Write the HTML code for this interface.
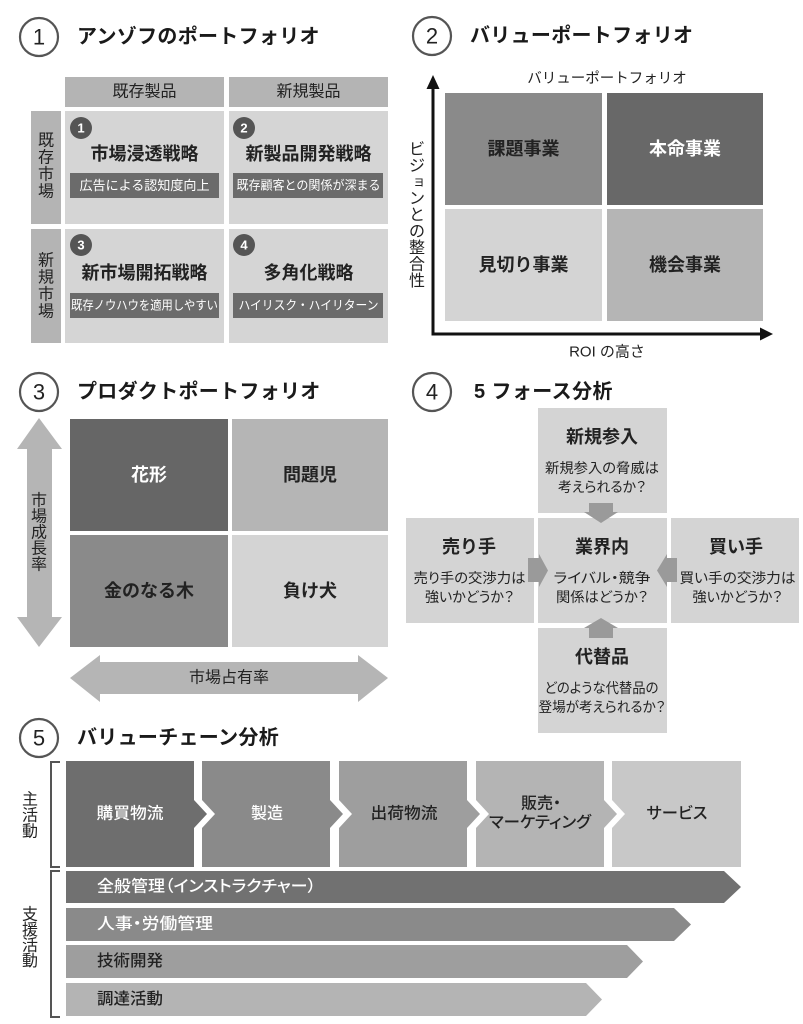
<!DOCTYPE html>
<html><head><meta charset="utf-8">
<style>
html,body{margin:0;padding:0;background:#fff;}
svg{display:block;}
text{font-family:"Liberation Sans","Noto Sans CJK JP",sans-serif;dominant-baseline:central;fill:#222;}
.t{font-size:20px;font-weight:700;fill:#1a1a1a;letter-spacing:0.3px;}
.n{font-size:22px;text-anchor:middle;fill:#222;}
.c{text-anchor:middle;}
.h16{font-size:16px;}
.b18{font-size:18px;font-weight:700;}
.w{fill:#fff;}
.bd{font-size:13px;font-weight:700;fill:#fff;text-anchor:middle;}
.d14{font-size:14px;text-anchor:middle;font-feature-settings:"palt" 1;}
.s5{font-size:16px;font-weight:500;font-feature-settings:"palt" 1;}
</style></head><body>
<svg width="803" height="1024" viewBox="0 0 803 1024" xmlns="http://www.w3.org/2000/svg">

<!-- Section headers -->
<circle cx="39" cy="37" r="19" fill="none" stroke="#555" stroke-width="2.2"/>
<text x="39" y="37" class="n">1</text>
<text x="77" y="37" class="t">アンゾフのポートフォリオ</text>

<circle cx="432" cy="36" r="19" fill="none" stroke="#555" stroke-width="2.2"/>
<text x="432" y="36" class="n">2</text>
<text x="470" y="36" class="t">バリューポートフォリオ</text>

<circle cx="39" cy="392" r="19" fill="none" stroke="#555" stroke-width="2.2"/>
<text x="39" y="392" class="n">3</text>
<text x="77" y="392" class="t">プロダクトポートフォリオ</text>

<circle cx="432" cy="392" r="19" fill="none" stroke="#555" stroke-width="2.2"/>
<text x="432" y="392" class="n">4</text>
<text x="474" y="392" class="t" style="letter-spacing:0.4px">5 フォース分析</text>

<circle cx="39" cy="738" r="19" fill="none" stroke="#555" stroke-width="2.2"/>
<text x="39" y="738" class="n">5</text>
<text x="77" y="738" class="t">バリューチェーン分析</text>

<!-- Section 1 -->
<rect x="65" y="77" width="159" height="30" fill="#b4b4b4"/>
<rect x="229" y="77" width="159" height="30" fill="#b4b4b4"/>
<text x="144.5" y="92" class="c h16">既存製品</text>
<text x="308.5" y="92" class="c h16">新規製品</text>

<rect x="31" y="111" width="30" height="113" fill="#b4b4b4"/>
<rect x="31" y="229" width="30" height="114" fill="#b4b4b4"/>
<text x="46" y="141" class="c h16">既</text>
<text x="46" y="158" class="c h16">存</text>
<text x="46" y="175" class="c h16">市</text>
<text x="46" y="192" class="c h16">場</text>
<text x="46" y="261" class="c h16">新</text>
<text x="46" y="278" class="c h16">規</text>
<text x="46" y="295" class="c h16">市</text>
<text x="46" y="312" class="c h16">場</text>

<rect x="65" y="111" width="159" height="113" fill="#d5d5d5"/>
<rect x="229" y="111" width="159" height="113" fill="#d5d5d5"/>
<rect x="65" y="229" width="159" height="114" fill="#d5d5d5"/>
<rect x="229" y="229" width="159" height="114" fill="#d5d5d5"/>

<circle cx="81" cy="128" r="11" fill="#555"/>
<circle cx="244" cy="128" r="11" fill="#555"/>
<circle cx="81" cy="245" r="11" fill="#555"/>
<circle cx="244" cy="245" r="11" fill="#555"/>
<text x="81" y="128" class="bd">1</text>
<text x="244" y="128" class="bd">2</text>
<text x="81" y="245" class="bd">3</text>
<text x="244" y="245" class="bd">4</text>

<text x="144.5" y="154" class="c b18">市場浸透戦略</text>
<text x="308.5" y="154" class="c b18">新製品開発戦略</text>
<text x="144.5" y="273" class="c b18">新市場開拓戦略</text>
<text x="308.5" y="273" class="c b18">多角化戦略</text>

<rect x="70" y="173" width="149" height="25" fill="#6b6b6b"/>
<rect x="233" y="173" width="150" height="25" fill="#6b6b6b"/>
<rect x="70" y="293" width="149" height="25" fill="#6b6b6b"/>
<rect x="233" y="293" width="150" height="25" fill="#6b6b6b"/>
<text x="144.5" y="185.5" class="c w" style="font-size:13px" textLength="130" lengthAdjust="spacingAndGlyphs">広告による認知度向上</text>
<text x="308.5" y="185.5" class="c w" style="font-size:12.5px" textLength="144" lengthAdjust="spacingAndGlyphs">既存顧客との関係が深まる</text>
<text x="144.5" y="305.5" class="c w" style="font-size:12.5px" textLength="147" lengthAdjust="spacingAndGlyphs">既存ノウハウを適用しやすい</text>
<text x="308.5" y="305.5" class="c w" style="font-size:12.5px" textLength="140" lengthAdjust="spacingAndGlyphs">ハイリスク・ハイリターン</text>

<!-- Section 2 -->
<text x="607" y="79" class="c" style="font-size:14.5px">バリューポートフォリオ</text>
<rect x="445" y="93" width="157" height="112" fill="#8a8a8a"/>
<rect x="607" y="93" width="156" height="112" fill="#686868"/>
<rect x="445" y="209" width="157" height="112" fill="#d4d4d4"/>
<rect x="607" y="209" width="156" height="112" fill="#b5b5b5"/>
<text x="523.5" y="149" class="c b18">課題事業</text>
<text x="685" y="149" class="c b18 w">本命事業</text>
<text x="523.5" y="265" class="c b18">見切り事業</text>
<text x="685" y="265" class="c b18">機会事業</text>

<line x1="433" y1="86" x2="433" y2="335.5" stroke="#111" stroke-width="3"/>
<line x1="431.5" y1="334" x2="762" y2="334" stroke="#111" stroke-width="3"/>
<polygon points="433,75 426.5,89 439.5,89" fill="#111"/>
<polygon points="773,334 760,327.5 760,340.5" fill="#111"/>

<text x="417" y="150" class="c h16">ビ</text>
<text x="417" y="166.5" class="c h16">ジ</text>
<text x="419" y="181" class="c h16" style="font-size:13px">ョ</text>
<text x="417" y="199" class="c h16">ン</text>
<text x="417" y="215.5" class="c h16">と</text>
<text x="417" y="232" class="c h16">の</text>
<text x="417" y="248.5" class="c h16">整</text>
<text x="417" y="265" class="c h16">合</text>
<text x="417" y="281.5" class="c h16">性</text>

<text x="607" y="352" class="c" style="font-size:15px">ROI の高さ</text>

<!-- Section 3 -->
<rect x="70" y="419" width="158" height="112" fill="#666"/>
<rect x="232" y="419" width="156" height="112" fill="#b5b5b5"/>
<rect x="70" y="535" width="158" height="112" fill="#8a8a8a"/>
<rect x="232" y="535" width="156" height="112" fill="#d4d4d4"/>
<text x="149" y="475" class="c b18 w">花形</text>
<text x="310" y="475" class="c b18">問題児</text>
<text x="149" y="591" class="c b18">金のなる木</text>
<text x="310" y="591" class="c b18">負け犬</text>

<polygon points="39,418 62,449 52,449 52,617 62,617 39,647 17,617 27,617 27,449 17,449" fill="#b5b5b5"/>
<text x="39" y="501" class="c h16">市</text>
<text x="39" y="517" class="c h16">場</text>
<text x="39" y="533" class="c h16">成</text>
<text x="39" y="549" class="c h16">長</text>
<text x="39" y="565" class="c h16">率</text>

<polygon points="70,678 100,655 100,662 358,662 358,655 388,678 358,702 358,694 100,694 100,702" fill="#b5b5b5"/>
<text x="229" y="678" class="c h16">市場占有率</text>

<!-- Section 4 -->
<rect x="538" y="408" width="129" height="105" fill="#d4d4d4"/>
<rect x="538" y="518" width="129" height="105" fill="#d4d4d4"/>
<rect x="406" y="518" width="128" height="105" fill="#d4d4d4"/>
<rect x="671" y="518" width="128" height="105" fill="#d4d4d4"/>
<rect x="538" y="628" width="129" height="105" fill="#d4d4d4"/>

<polygon points="589,503 613,503 613,512 618,512 601,523 584,512 589,512" fill="#9a9a9a"/>
<polygon points="589,638 613,638 613,628 618,628 601,618 584,628 589,628" fill="#9a9a9a"/>
<polygon points="528,558 539,558 539,554 548,570.5 539,587 539,582 528,582" fill="#9a9a9a"/>
<polygon points="677,558 667,558 667,554 657,570.5 667,587 667,582 677,582" fill="#9a9a9a"/>

<text x="602" y="437" class="c b18">新規参入</text>
<text x="602" y="468" class="d14" textLength="114" lengthAdjust="spacingAndGlyphs">新規参入の脅威は</text>
<text x="602" y="487" class="d14" textLength="88" lengthAdjust="spacingAndGlyphs">考えられるか？</text>

<text x="602" y="547" class="c b18">業界内</text>
<text x="602" y="578" class="d14" textLength="97" lengthAdjust="spacingAndGlyphs">ライバル・競争</text>
<text x="602" y="597" class="d14" textLength="92" lengthAdjust="spacingAndGlyphs">関係はどうか？</text>

<text x="469" y="547" class="c b18">売り手</text>
<text x="469.5" y="578" class="d14" textLength="112" lengthAdjust="spacingAndGlyphs">売り手の交渉力は</text>
<text x="469.5" y="597" class="d14" textLength="89" lengthAdjust="spacingAndGlyphs">強いかどうか？</text>

<text x="736" y="547" class="c b18">買い手</text>
<text x="737.5" y="578" class="d14" textLength="116" lengthAdjust="spacingAndGlyphs">買い手の交渉力は</text>
<text x="737.5" y="597" class="d14" textLength="90" lengthAdjust="spacingAndGlyphs">強いかどうか？</text>

<text x="602" y="657" class="c b18">代替品</text>
<text x="601.5" y="688" class="d14" textLength="114" lengthAdjust="spacingAndGlyphs">どのような代替品の</text>
<text x="602" y="707" class="d14" textLength="127" lengthAdjust="spacingAndGlyphs">登場が考えられるか？</text>

<!-- Section 5 -->
<path d="M60,762 H51 V867 H60" fill="none" stroke="#555" stroke-width="2"/>
<path d="M60,871 H51 V1017 H60" fill="none" stroke="#555" stroke-width="2"/>
<text x="30" y="800" class="c h16">主</text>
<text x="30" y="816" class="c h16">活</text>
<text x="30" y="832" class="c h16">動</text>
<text x="30" y="915" class="c h16">支</text>
<text x="30" y="930.5" class="c h16">援</text>
<text x="30" y="946" class="c h16">活</text>
<text x="30" y="961.5" class="c h16">動</text>

<polygon points="66,761 194,761 194,800 207,814 194,828 194,867 66,867" fill="#6e6e6e"/>
<polygon points="202,761 330,761 330,800 343,814 330,828 330,867 202,867 202,828 215,814 202,800" fill="#8a8a8a"/>
<polygon points="339,761 467,761 467,800 480,814 467,828 467,867 339,867 339,828 352,814 339,800" fill="#9e9e9e"/>
<polygon points="476,761 604,761 604,800 617,814 604,828 604,867 476,867 476,828 489,814 476,800" fill="#b4b4b4"/>
<polygon points="612,761 741,761 741,867 612,867 612,828 625,814 612,800" fill="#c8c8c8"/>

<text x="130" y="814" class="c s5 w" textLength="67" lengthAdjust="spacingAndGlyphs">購買物流</text>
<text x="267" y="814" class="c s5 w">製造</text>
<text x="404" y="814" class="c s5" textLength="67" lengthAdjust="spacingAndGlyphs">出荷物流</text>
<text x="541" y="804" class="c s5">販売・</text>
<text x="540" y="823" class="c s5" textLength="102" lengthAdjust="spacingAndGlyphs">マーケティング</text>
<text x="677" y="814" class="c s5" textLength="61" lengthAdjust="spacingAndGlyphs">サービス</text>

<polygon points="66,871 724,871 741,887 724,903 66,903" fill="#717171"/>
<polygon points="66,908 674,908 691,924.5 674,941 66,941" fill="#8a8a8a"/>
<polygon points="66,945 627,945 643,961.5 627,978 66,978" fill="#9e9e9e"/>
<polygon points="66,983 586,983 602,999.5 586,1016 66,1016" fill="#b4b4b4"/>

<text x="97" y="887" class="s5 w" textLength="219" lengthAdjust="spacingAndGlyphs">全般管理（インストラクチャー）</text>
<text x="97" y="924.5" class="s5 w" textLength="116" lengthAdjust="spacingAndGlyphs">人事・労働管理</text>
<text x="97" y="961.5" class="s5" textLength="66" lengthAdjust="spacingAndGlyphs">技術開発</text>
<text x="97" y="999.5" class="s5" textLength="66" lengthAdjust="spacingAndGlyphs">調達活動</text>

</svg>
</body></html>
